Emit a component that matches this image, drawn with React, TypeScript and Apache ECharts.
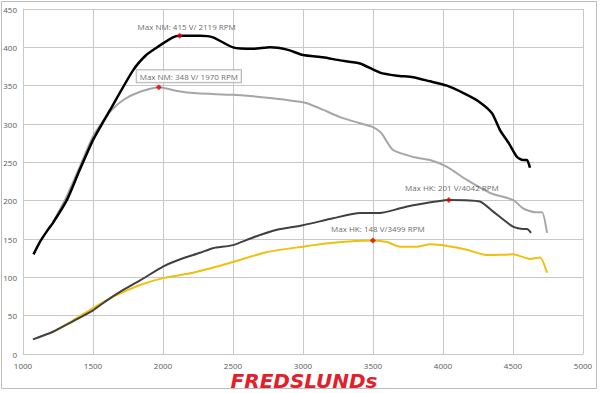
import React, { useEffect, useRef } from "react";
import * as echarts from "echarts";

const xTicks = [1000, 1500, 2000, 2500, 3000, 3500, 4000, 4500, 5000];
const yTicks = [0, 50, 100, 150, 200, 250, 300, 350, 400, 450];

// Torque (NM) – tuned (black)
const nmTuned: [number, number][] = [
  [1075, 130], [1120, 146], [1170, 160], [1214, 171], [1314, 201], [1400, 238], [1500, 279],
  [1621, 318], [1786, 370], [1880, 390], [1957, 400], [2071, 413], [2119, 415], [2264, 415],
  [2357, 413], [2500, 400], [2643, 398], [2764, 400], [2886, 397], [3000, 390], [3143, 387],
  [3264, 383], [3407, 379], [3550, 367], [3671, 363], [3786, 361], [3900, 356], [4029, 350],
  [4150, 340], [4250, 330], [4350, 314], [4407, 292], [4470, 275], [4529, 257], [4571, 253],
  [4600, 253], [4621, 243],
];

// Torque (NM) – stock (light gray)
const nmStock: [number, number][] = [
  [1214, 172], [1300, 201], [1400, 242], [1500, 284], [1580, 306], [1621, 316], [1714, 331],
  [1836, 342], [1970, 348], [2100, 343], [2243, 340], [2500, 338], [2764, 334], [2979, 329],
  [3029, 327], [3150, 318], [3264, 309], [3407, 301], [3500, 296], [3560, 288], [3643, 266],
  [3786, 257], [3907, 253], [4029, 244], [4171, 227], [4336, 210], [4500, 201], [4571, 190],
  [4657, 185], [4707, 185], [4743, 158],
];

// Power (HK) – tuned (dark gray)
const hkTuned: [number, number][] = [
  [1071, 19], [1214, 29], [1350, 42], [1500, 57], [1600, 70], [1693, 81], [1836, 96],
  [2000, 114], [2100, 122], [2264, 132], [2357, 138], [2500, 142], [2643, 152], [2814, 162],
  [3000, 168], [3214, 177], [3407, 184], [3550, 184], [3693, 190], [3786, 194], [4042, 201],
  [4264, 199], [4357, 186], [4500, 166], [4571, 163], [4600, 163], [4629, 158],
];

// Power (HK) – stock (yellow)
const hkStock: [number, number][] = [
  [1214, 29], [1350, 43], [1500, 60], [1671, 77], [1836, 90], [2000, 99], [2214, 106],
  [2407, 115], [2500, 120], [2743, 133], [3000, 140], [3214, 145], [3499, 148], [3600, 146],
  [3693, 140], [3814, 140], [3907, 143], [4029, 141], [4171, 136], [4314, 129], [4500, 130],
  [4621, 124], [4693, 126], [4743, 106],
];

const maxNmTuned = { rpm: 2119, v: 415, text: "Max NM: 415 V/ 2119 RPM" };
const maxNmStock = { rpm: 1970, v: 348, text: "Max NM: 348 V/ 1970 RPM" };
const maxHkTuned = { rpm: 4042, v: 201, text: "Max HK: 201 V/4042 RPM" };
const maxHkStock = { rpm: 3499, v: 148, text: "Max HK: 148 V/3499 RPM" };

const FONT = "'Open Sans', 'Noto Sans', sans-serif";

export default function App() {
  const ref = useRef<HTMLDivElement>(null);
  useEffect(() => {
    document.body.style.margin = "0";
    if (!ref.current) return;
    const chart = echarts.init(ref.current, undefined, { renderer: "svg" });
    const lineSeries = (data: [number, number][], color: string, width: number, z: number) => ({
      type: "line",
      data,
      smooth: 0.2,
      showSymbol: false,
      symbol: "none",
      lineStyle: { color, width },
      z,
    });
    const marker = (m: { rpm: number; v: number; text: string }, offset: number[], boxed = false) => ({
      value: [m.rpm, m.v],
      label: {
        show: true,
        formatter: m.text,
        position: "inside",
        offset,
        color: "#404040",
        fontSize: 8,
        fontFamily: FONT,
        ...(boxed
          ? { backgroundColor: "#ffffff", borderColor: "#a0a0a0", borderWidth: 1, padding: [2, 3] }
          : {}),
      },
    });
    chart.setOption({
      animation: false,
      backgroundColor: "#ffffff",
      grid: { left: 23, right: 17, top: 9, bottom: 39 },
      xAxis: {
        type: "value",
        min: xTicks[0],
        max: xTicks[xTicks.length - 1],
        interval: 500,
        axisLine: { show: true, lineStyle: { color: "#c8c8c8" } },
        axisTick: { show: false },
        axisLabel: {
          color: "#595959",
          fontSize: 8,
          fontFamily: FONT,
          margin: 7,
          formatter: (v: number) => String(v),
        },
        splitLine: { show: true, lineStyle: { color: "#c8c8c8", width: 1 } },
      },
      yAxis: {
        type: "value",
        min: yTicks[0],
        max: yTicks[yTicks.length - 1],
        interval: 50,
        axisLine: { show: true, lineStyle: { color: "#c8c8c8" } },
        axisTick: { show: false },
        axisLabel: {
          color: "#595959",
          fontSize: 8,
          fontFamily: FONT,
          margin: 6,
          formatter: (v: number) => String(v),
        },
        splitLine: { show: true, lineStyle: { color: "#c8c8c8", width: 1 } },
      },
      series: [
        lineSeries(nmStock, "#a6a6a6", 2, 2),
        lineSeries(nmTuned, "#000000", 2.5, 3),
        lineSeries(hkStock, "#f0c010", 2, 2),
        lineSeries(hkTuned, "#404040", 2, 3),
        {
          type: "scatter",
          symbol: "diamond",
          symbolSize: 6,
          itemStyle: { color: "#e00000" },
          z: 5,
          data: [
            marker(maxNmTuned, [7, -9]),
            marker(maxNmStock, [30, -11], true),
            marker(maxHkTuned, [3, -12]),
            marker(maxHkStock, [5, -12]),
          ],
        },
      ],
      graphic: [
        {
          type: "rect",
          shape: { x: 1.5, y: 1.5, width: 595, height: 387 },
          style: { fill: "none", stroke: "#bdbdbd", lineWidth: 1 },
          z: -1,
          silent: true,
        },
        {
          type: "text",
          x: 304,
          y: 381,
          style: {
            text: "FREDSLUNDs",
            fill: "#e3202a",
            font: "italic 900 20px 'DejaVu Sans', sans-serif",
            align: "center",
            verticalAlign: "middle",
          },
          z: 10,
        },
      ],
    });
    return () => chart.dispose();
  }, []);
  return <div ref={ref} style={{ width: 600, height: 393 }} />;
}
